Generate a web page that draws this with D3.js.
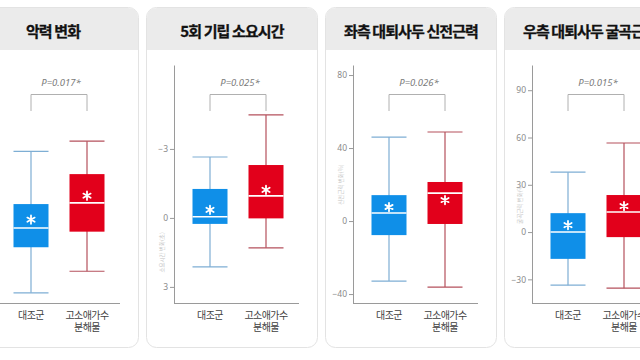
<!DOCTYPE html>
<html>
<head>
<meta charset="utf-8">
<script src="https://cdn.jsdelivr.net/npm/d3@7/dist/d3.min.js"></script>
<style>
  html, body { margin: 0; padding: 0; background: #ffffff; }
  svg { display: block; font-family: "Noto Sans CJK KR", "Noto Sans", sans-serif; }
</style>
</head>
<body>
<svg id="chart" width="640" height="360"></svg>
<script>
// Panel titles, significance and axis labels
const titles = ["악력 변화", "5회 기립 소요시간", "좌측 대퇴사두 신전근력", "우측 대퇴사두 굴곡근력"];
const pLabels = ["P=0.017*", "P=0.025*", "P=0.026*", "P=0.015*"];
const yTitles = ["", "소요시간 변화(초)", "신전근력 변화(%)", "굴곡근력 변화(%)"];
const groups = ["대조군", "고소애가수 분해물"];
const tickValues = [[], [-3, 0, 3], [-40, 0, 40, 80], [-30, 0, 30, 60, 90]];

// Box statistics per panel: [min, Q1, median, Q3, max, mean]
const controlStats = [
  [-5.4, -1.6, 0.0, 2.0, 6.4, 0.7],
  [-2.65, -1.26, -0.05, 0.26, 2.13, -0.35],
  [-32.9, -7.7, 4.4, 14.2, 46.0, 7.7],
  [-33.7, -17.0, 0.0, 12.0, 38.0, 4.4]
];
const treatmentStats = [
  [-3.6, -0.3, 2.1, 4.5, 7.25, 2.7],
  [-4.48, -2.3, -0.96, 0.02, 1.3, -1.22],
  [-36.2, -1.6, 15.3, 21.4, 48.8, 11.5],
  [-35.6, -3.2, 12.7, 23.5, 56.5, 16.5]
];

// Value extents of each panel's y axis (second panel runs downward: lower time is better)
const yDomains = [[-6.25, 13.6], [3.7, -6.65], [-44.9, 85.5], [-45, 106]];

const svg = d3.select("#chart");
const panelW = 171, panelTop = 7, panelBottom = 347, bandH = 43, pitch = 179, firstLeft = -33;
const plotTop = 65, plotBottom = 303;
const fillColors = ["#0f8fe8", "#e2001b"];
const whiskerColors = ["#7eaed4", "#b5505c"];

// y positions (value units) for the rotated axis titles
const yTitleAt = [1.0, 1.5, 20, 18];

titles.forEach((title, i) => {
  const left = firstLeft + i * pitch;
  const g = svg.append("g");

  // card
  g.append("rect")
    .attr("x", left + 0.5).attr("y", panelTop + 0.5)
    .attr("width", panelW).attr("height", panelBottom - panelTop)
    .attr("rx", 10).attr("fill", "#ffffff").attr("stroke", "#e3e3e3");
  // title band with rounded top
  const r = 10, x0 = left + 1, x1 = left + panelW, y0 = panelTop + 1, y1 = panelTop + bandH;
  g.append("path")
    .attr("d", `M${x0},${y1} L${x0},${y0 + r} Q${x0},${y0} ${x0 + r},${y0} L${x1 - r},${y0} Q${x1},${y0} ${x1},${y0 + r} L${x1},${y1} Z`)
    .attr("fill", "#ebebeb");
  g.append("text")
    .attr("x", left + panelW / 2 + 0.5).attr("y", panelTop + 30)
    .attr("text-anchor", "middle")
    .attr("font-size", 15).attr("font-weight", 700)
    .attr("letter-spacing", -0.9)
    .attr("fill", "#111111")
    .attr("stroke", "#111111").attr("stroke-width", 0.3)
    .text(title);

  const axisX = left + 28;
  const y = d3.scaleLinear().domain(yDomains[i]).range([plotBottom, plotTop]);
  const x = d3.scaleBand().domain(groups).range([axisX + 8, axisX + 120])
    .paddingInner(0.375).paddingOuter(0.1875);

  // y axis
  const yAxis = g.append("g")
    .attr("transform", `translate(${axisX},0)`)
    .call(d3.axisLeft(y).tickValues(tickValues[i]).tickSize(4).tickSizeOuter(0).tickPadding(2));
  yAxis.select(".domain").attr("stroke", "#9a9a9a");
  yAxis.selectAll(".tick line").attr("stroke", "#9a9a9a");
  yAxis.selectAll(".tick text").attr("fill", "#8a8a8a").attr("font-size", 8.5)
    .attr("font-family", "'Noto Sans', sans-serif");

  // rotated axis title
  if (yTitles[i]) {
    g.append("text")
      .attr("transform", `translate(${axisX - 10},${y(yTitleAt[i])}) rotate(-90)`)
      .attr("text-anchor", "middle")
      .attr("font-size", 5.5).attr("fill", "#c4c4c4")
      .text(yTitles[i]);
  }

  // x axis baseline and category labels
  g.append("line")
    .attr("x1", axisX).attr("x2", axisX + 125)
    .attr("y1", plotBottom + 0.5).attr("y2", plotBottom + 0.5)
    .attr("stroke", "#9a9a9a");
  groups.forEach(name => {
    const cx = x(name) + x.bandwidth() / 2;
    name.split(" ").forEach((p, k) => {
      g.append("text")
        .attr("x", cx).attr("y", plotBottom + 15.5 + k * 12.5)
        .attr("text-anchor", "middle").attr("font-size", 10)
        .attr("letter-spacing", -0.6)
        .attr("fill", "#3f3f3f")
        .text(p);
    });
  });

  // boxes
  [controlStats[i], treatmentStats[i]].forEach((s, k) => {
    const [mn, q1, med, q3, mx, mean] = s;
    const bx = x(groups[k]), bw = x.bandwidth(), cx = bx + bw / 2;
    const wc = whiskerColors[k];
    g.append("line").attr("x1", cx).attr("x2", cx)
      .attr("y1", y(mn)).attr("y2", y(mx)).attr("stroke", wc).attr("stroke-width", 1.2);
    [mn, mx].forEach(v => {
      g.append("line").attr("x1", bx).attr("x2", bx + bw)
        .attr("y1", y(v)).attr("y2", y(v)).attr("stroke", wc).attr("stroke-width", 1.2);
    });
    const top = Math.min(y(q1), y(q3)), h = Math.abs(y(q1) - y(q3));
    g.append("rect").attr("x", bx).attr("y", top).attr("width", bw).attr("height", h)
      .attr("fill", fillColors[k]);
    g.append("line").attr("x1", bx).attr("x2", bx + bw)
      .attr("y1", y(med)).attr("y2", y(med)).attr("stroke", "#ffffff").attr("stroke-width", 1.6);
    // mean marker: six-armed asterisk
    const my = y(mean), rr = 4.2;
    const d = [90, 30, -30].map(a => {
      const rad = a * Math.PI / 180;
      const dx = rr * Math.cos(rad), dy = rr * Math.sin(rad);
      return `M${cx - dx},${my - dy}L${cx + dx},${my + dy}`;
    }).join("");
    g.append("path").attr("d", d).attr("stroke", "#ffffff").attr("stroke-width", 1.8)
      .attr("stroke-linecap", "round");
  });

  // significance bracket
  const c0 = x(groups[0]) + x.bandwidth() / 2, c1 = x(groups[1]) + x.bandwidth() / 2;
  const bTop = 94.5, bLeg = 111;
  g.append("path")
    .attr("d", `M${c0},${bLeg}L${c0},${bTop}L${c1},${bTop}L${c1},${bLeg}`)
    .attr("fill", "none").attr("stroke", "#b0b0b0").attr("stroke-width", 1);
  g.append("text")
    .attr("x", (c0 + c1) / 2 + 2).attr("y", 86)
    .attr("text-anchor", "middle").attr("font-size", 9.5)
    .attr("font-style", "italic").attr("fill", "#7a7a7a")
    .attr("font-family", "'Noto Sans', sans-serif")
    .text(pLabels[i]);
});
</script>
</body>
</html>
